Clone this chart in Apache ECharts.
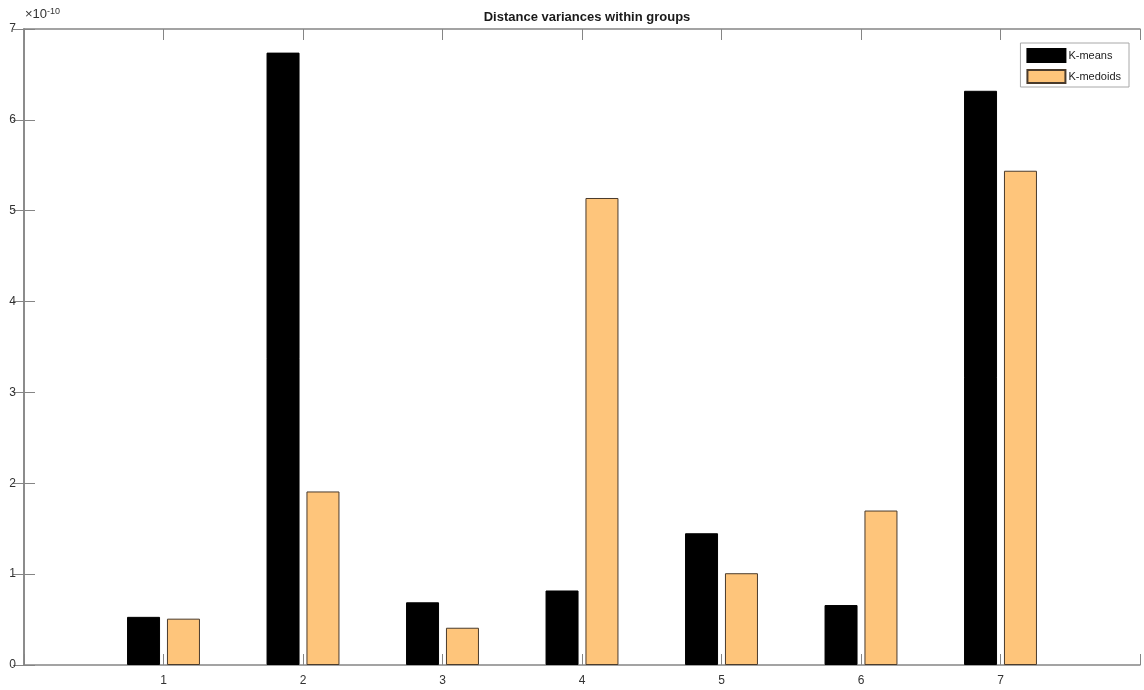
<!DOCTYPE html>
<html>
<head>
<meta charset="utf-8">
<script src="https://cdn.jsdelivr.net/npm/echarts@6/dist/echarts.min.js"></script>
<style>
  html, body { margin: 0; padding: 0; background: #fff; }
  #chart { width: 1144px; height: 690px; }
</style>
</head>
<body>
<div id="chart"></div>
<script>
// groups on the x axis
var groups = [1, 2, 3, 4, 5, 6, 7];
// variances, in units of 1e-10
var kMeans   = [0.53, 6.74, 0.69, 0.82, 1.45, 0.66, 6.32];
var kMedoids = [0.51, 1.91, 0.41, 5.14, 1.01, 1.70, 5.44];
var yTicks = [0, 1, 2, 3, 4, 5, 6, 7];

var axisGrey = '#858585';
var labelColor = '#333';
var fontFam = 'Liberation Sans, Arial, sans-serif';

function pairs(vals) {
  return groups.map(function (g, i) { return [g, vals[i]]; });
}

var chart = echarts.init(document.getElementById('chart'));

var xBase = {
  type: 'value', min: 0, max: 8, interval: 1,
  axisLine: { show: true, onZero: false, lineStyle: { color: axisGrey, width: 1.5 } },
  axisTick: { show: true, inside: true, length: 11, lineStyle: { color: axisGrey } },
  splitLine: { show: false }
};
var yBase = {
  type: 'value', min: 0, max: 7, interval: 1,
  axisLine: { show: true, lineStyle: { color: axisGrey, width: 1.5 } },
  axisTick: { show: true, inside: true, length: 11, lineStyle: { color: axisGrey } },
  splitLine: { show: false }
};

chart.setOption({
  animation: false,
  backgroundColor: '#fff',
  title: {
    text: 'Distance variances within groups',
    left: 582, top: 6, textAlign: 'center',
    textStyle: { fontSize: 13, fontWeight: 'bold', color: '#1a1a1a', fontFamily: fontFam }
  },
  grid: { left: 24, right: 4, top: 29, bottom: 25 },
  legend: {
    orient: 'vertical',
    right: 15, top: 43,
    icon: 'rect',
    itemWidth: 38, itemHeight: 13, itemGap: 6,
    padding: [5, 8, 3, 6],
    borderColor: '#a8a8a8', borderWidth: 1,
    backgroundColor: '#fff',
    textStyle: { fontSize: 11, color: '#222', fontFamily: fontFam, padding: [0, 0, 0, -2] },
    data: ['K-means', 'K-medoids']
  },
  xAxis: [
    Object.assign({}, xBase, {
      position: 'bottom',
      axisLabel: {
        margin: 10, fontSize: 12, color: labelColor, fontFamily: fontFam,
        formatter: function (v) { return groups.indexOf(v) >= 0 ? String(v) : ''; }
      }
    }),
    Object.assign({}, xBase, { position: 'top', axisLabel: { show: false } })
  ],
  yAxis: [
    Object.assign({}, yBase, {
      position: 'left',
      axisLabel: {
        margin: 8, fontSize: 12, color: labelColor, fontFamily: fontFam,
        formatter: function (v) { return yTicks.indexOf(v) >= 0 ? String(v) : ''; }
      }
    }),
    Object.assign({}, yBase, { position: 'right', axisLabel: { show: false } })
  ],
  graphic: [{
    type: 'text', left: 25, top: 7,
    style: {
      text: '×10{sup|-10}',
      font: '13px ' + fontFam,
      fill: labelColor,
      rich: { sup: { fontSize: 9, verticalAlign: 'top', padding: [0, 0, 6, 0], fill: labelColor } }
    }
  }],
  series: [
    {
      name: 'K-means', type: 'bar',
      xAxisIndex: 0, yAxisIndex: 0,
      barWidth: 33, barGap: '21%',
      itemStyle: { color: '#000', borderColor: '#000', borderWidth: 1 },
      data: pairs(kMeans)
    },
    {
      name: 'K-medoids', type: 'bar',
      xAxisIndex: 0, yAxisIndex: 0,
      barWidth: 33, barGap: '21%',
      itemStyle: { color: '#fec57b', borderColor: '#4a3b2c', borderWidth: 1 },
      data: pairs(kMedoids)
    }
  ]
});
</script>
</body>
</html>
